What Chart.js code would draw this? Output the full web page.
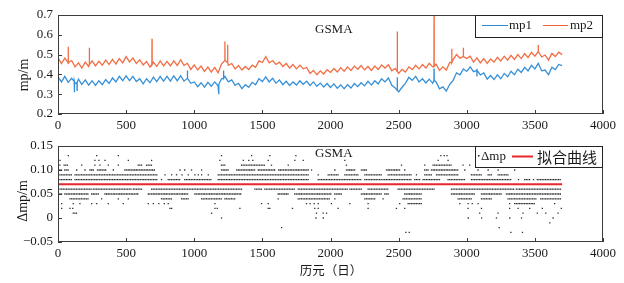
<!DOCTYPE html>
<html><head><meta charset="utf-8">
<script src="https://cdn.jsdelivr.net/npm/chart.js@4"></script>
<style>body{margin:0;background:#fff;}canvas{display:block;}</style>
</head><body>
<canvas id="c1" width="624" height="132"></canvas>
<canvas id="c2" width="624" height="151"></canvas>
<script>
// ---------- DATA ----------
const xTicks = [0,500,1000,1500,2000,2500,3000,3500,4000];
const days = Array.from({length:149},(_,i)=>i*25); // sample days 0..3700
const mp2 = [
0.485,0.455,0.482,0.452,0.47,0.438,0.458,0.432,
0.462,0.44,0.468,0.443,0.466,0.446,0.472,0.45,
0.476,0.452,0.48,0.458,0.49,0.463,0.482,0.455,
0.474,0.448,0.465,0.437,0.462,0.44,0.468,0.443,
0.466,0.443,0.468,0.445,0.474,0.446,0.456,0.425,
0.448,0.422,0.442,0.415,0.437,0.412,0.435,0.408,
0.452,0.48,0.446,0.455,0.428,0.445,0.422,0.44,
0.425,0.447,0.436,0.468,0.46,0.49,0.458,0.47,
0.45,0.462,0.44,0.455,0.432,0.45,0.428,0.446,
0.428,0.435,0.405,0.42,0.398,0.418,0.402,0.424,
0.41,0.43,0.412,0.434,0.416,0.438,0.42,0.442,
0.426,0.445,0.423,0.44,0.42,0.442,0.425,0.448,
0.432,0.448,0.418,0.43,0.405,0.425,0.412,0.438,
0.424,0.446,0.428,0.45,0.432,0.456,0.438,0.452,
0.42,0.438,0.422,0.46,0.475,0.5,0.482,0.508,
0.48,0.492,0.462,0.484,0.458,0.48,0.456,0.478,
0.462,0.486,0.468,0.492,0.472,0.496,0.476,0.5,
0.48,0.505,0.485,0.512,0.492,0.528,0.488,0.498,
0.472,0.506,0.49,0.512,0.5];
const mp1 = [
0.388,0.362,0.39,0.36,0.38,0.352,0.376,0.35,
0.372,0.346,0.368,0.344,0.368,0.348,0.374,0.354,
0.382,0.362,0.39,0.368,0.392,0.368,0.39,0.364,
0.378,0.352,0.378,0.358,0.386,0.364,0.39,0.366,
0.39,0.366,0.392,0.368,0.394,0.366,0.386,0.355,
0.362,0.338,0.358,0.336,0.36,0.34,0.362,0.342,
0.378,0.39,0.362,0.372,0.345,0.355,0.328,0.348,
0.335,0.36,0.348,0.378,0.364,0.388,0.362,0.38,
0.356,0.372,0.348,0.365,0.344,0.362,0.346,0.368,
0.35,0.366,0.344,0.362,0.34,0.356,0.336,0.354,
0.334,0.352,0.33,0.347,0.328,0.348,0.331,0.354,
0.338,0.358,0.342,0.365,0.346,0.368,0.352,0.378,
0.362,0.382,0.345,0.332,0.312,0.335,0.355,0.385,
0.37,0.39,0.362,0.378,0.357,0.376,0.355,0.362,
0.327,0.337,0.316,0.35,0.37,0.408,0.398,0.428,
0.415,0.438,0.414,0.428,0.397,0.407,0.376,0.394,
0.374,0.398,0.378,0.405,0.388,0.416,0.398,0.426,
0.41,0.436,0.418,0.446,0.428,0.456,0.418,0.422,
0.398,0.436,0.424,0.45,0.444];
// spikes: [day, base, peak]
const mp2Spikes = [[75,0.46,0.54],[230,0.45,0.535],[690,0.45,0.58],[1225,0.47,0.566],[1245,0.46,0.55],[2490,0.415,0.617],[2760,0.44,0.70],[2890,0.46,0.53],[2975,0.49,0.535],[3525,0.515,0.548]];
const mp1Spikes = [[120,0.365,0.31],[140,0.36,0.32],[950,0.38,0.42],[1180,0.35,0.30],[1215,0.38,0.42],[2490,0.32,0.385],[2760,0.37,0.43],[3075,0.42,0.39]];

// Δmp: day runs [start,end] (or single day) per quantized level
const lv013 = [[76],[284],[443],[1200],[1421],[1555],[1746],[2810],[2835],[2855]];
const lv012 = [[15],[271],[300],[345],[516],[687],[1188],[1360],[1400],[1430],[1543],[1738],[1800],[2105],[2790],[2863]];
const lv011 = [[2,20],[45,76],[174],[271],[308],[369],[443],[589,620],[650,687],[1200,1225],[1347,1518],[1567],[1690],[2117],[2521],[2692],[2753,2888],[2973],[3022],[3095],[3157]];
const lv010 = [[2,30],[50,76],[137],[198],[235,260],[290,357],[406],[491,711],[895],[930],[980],[1054],[1200,1249],[1311,1450],[1470,1600],[1620,1836],[1861],[2032],[2117,2178],[2227,2264],[2411,2508],[2545],[2692,2716],[2741,2937],[2986],[3083],[3157],[3230],[3352]];
const lv009 = [[2,100],[125,736],[785],[834],[870],[910],[956],[1005],[1030],[1054],[1103],[1176,1836],[1910],[1983,2056],[2105,2203],[2252,2374],[2423,2594],[2631],[2692,2741],[2778,2937],[3034,3108],[3157,3181],[3230,3303]];
const lv008 = [[2,100],[125,736],[760],[809,900],[930,1130],[1176,1836],[1910,2227],[2252,2374],[2386,2594],[2618,2655],[2680,2802],[2863,2986],[3034,3328],[3380],[3425,3462],[3490],[3518,3694]];
const lv006 = [[15,247],[259,540],[553,614],[687,1347],[1445,1494],[1518,1738],[1763,2129],[2142,2227],[2276,2423],[2496,2765],[2888,3352],[3364,3694]];
const lv005 = [[2,27],[51,222],[247,296],[345,589],[663,956],[1005,1347],[1616,1690],[1738,2007],[2032,2081],[2227,2374],[2399,2423],[2545,2667],[2888,3059],[3108,3254],[3291,3694]];
const lv004 = [[88,222],[320],[443],[516],[760,834],[907,956],[1054,1200],[1225,1298],[1616],[1763,1995],[2032],[2252,2325],[2386],[2533,2667],[2937,3034],[3108,3181],[3303,3518],[3543,3694]];
const lv003 = [[27],[112],[161],[247],[284],[369],[479],[663],[700],[740],[780],[809],[1152],[1494],[1543],[1824],[1850],[1880],[1910],[2007],[2142],[2276],[2508],[2570,2667],[2949],[3010],[3040],[3083],[3315],[3352,3499],[3645]];
const lv002 = [[27],[88],[108],[822],[834],[1152],[1169],[1335],[1543],[1555],[1721],[1885],[1910],[2056],[2276],[2484],[2545],[3010],[3108],[3315],[3377],[3462],[3555],[3694]];
const lv001 = [[112,137],[1127],[1897],[1946],[1971],[3095],[3230],[3413],[3518],[3580],[3670]];
const lv000 = [[1200],[1893],[1947],[3011],[3109],[3218],[3316],[3402],[3634]];
const lvm001 = [[3610]];
const lvm002 = [[1641],[3238]];
const lvm003 = [[2553],[2578],[3324],[3409]];
const levels = [[0.13,lv013],[0.12,lv012],[0.11,lv011],[0.10,lv010],[0.09,lv009],[0.08,lv008],[0.06,lv006],[0.05,lv005],[0.04,lv004],[0.03,lv003],[0.02,lv002],[0.01,lv001],[0,lv000],[-0.01,lvm001],[-0.02,lvm002],[-0.03,lvm003]];
const fitDays = [0,3700];
const fitVals = [0.0705,0.0705];

// ---------- BUILD ----------
function series(vals, spikes){
  const n=Math.min(days.length,vals.length);
  const pts=[];
  for(let i=0;i<n;i++) pts.push({x:days[i],y:vals[i]});
  spikes.forEach(([d,b,p])=>{pts.push({x:d-1,y:b},{x:d,y:p},{x:d+1,y:b});});
  pts.sort((a,b)=>a.x-b.x);
  return pts;
}
function expand(){
  const pts=[];
  levels.forEach(([v,runs])=>runs.forEach(r=>{
    const a=r[0], b=r.length>1?r[1]:r[0];
    for(let d=a; d<=b; d+=12) pts.push({x:d,y:v});
  }));
  return pts;
}
const SERIF='"Liberation Serif","Times New Roman",serif';
const CJK='"Noto Sans CJK SC","Noto Sans CJK JP",sans-serif';
Chart.defaults.font.family=SERIF;
Chart.defaults.font.size=13;
Chart.defaults.color='#1a1a1a';

function framePlugin(draw){
  return {id:'frame'+Math.floor(Math.random()*1e6), afterDatasetsDraw(chart){
    const {ctx, chartArea:a, scales:{x,y}}=chart;
    ctx.save();
    ctx.strokeStyle='#3c3c3c'; ctx.lineWidth=1;
    ctx.strokeRect(a.left+0.5,a.top+0.5,a.right-a.left-1,a.bottom-a.top-1);
    ctx.beginPath();
    x.ticks.forEach(t=>{const px=Math.round(x.getPixelForValue(t.value))+0.5; ctx.moveTo(px,a.bottom); ctx.lineTo(px,a.bottom-4);});
    y.ticks.forEach(t=>{const py=Math.round(y.getPixelForValue(t.value))+0.5; ctx.moveTo(a.left,py); ctx.lineTo(a.left+4,py);});
    ctx.stroke();
    draw(ctx,a);
    ctx.restore();
  }};
}
function xScale(h){
  return {type:'linear',min:0,max:4000,
    ticks:{stepSize:500,padding:4,callback:v=>String(v),autoSkip:false,maxRotation:0},
    grid:{display:false,drawTicks:false},border:{display:false},
    afterFit:s=>{s.height=h;}};
}

// ---------- TOP CHART ----------
new Chart(document.getElementById('c1'),{
  type:'line',
  data:{datasets:[
    {label:'mp1',data:series(mp1,mp1Spikes),borderColor:'rgba(43,138,214,0.95)',borderWidth:1.3,pointRadius:0,tension:0},
    {label:'mp2',data:series(mp2,mp2Spikes),borderColor:'rgba(240,102,58,0.95)',borderWidth:1.3,pointRadius:0,tension:0}
  ]},
  options:{responsive:false,animation:false,events:[],
    layout:{padding:{top:15,right:21,left:0,bottom:0}},
    plugins:{legend:{display:false},tooltip:{enabled:false}},
    scales:{
      x:xScale(18),
      y:{min:0.2,max:0.7,ticks:{stepSize:0.1,padding:5,callback:v=>v.toFixed(1)},
        grid:{display:false,drawTicks:false},border:{display:false},afterFit:s=>{s.width=58;}}
    }},
  plugins:[framePlugin((ctx,a)=>{
    ctx.fillStyle='#1a1a1a';
    ctx.font='13px '+SERIF; ctx.textBaseline='middle'; ctx.textAlign='left';
    ctx.fillText('GSMA',315,30);
    ctx.save(); ctx.translate(24,75); ctx.rotate(-Math.PI/2);
    ctx.font='14px '+SERIF; ctx.textAlign='center'; ctx.fillText('mp/m',0,0); ctx.restore();
    // legend
    ctx.fillStyle='#fff'; ctx.fillRect(476,16,126,21);
    ctx.strokeStyle='#222'; ctx.lineWidth=1; ctx.strokeRect(475.5,15.5,127,22);
    ctx.beginPath(); ctx.strokeStyle='#2b8ad6'; ctx.moveTo(482,25.5); ctx.lineTo(508,25.5); ctx.stroke();
    ctx.beginPath(); ctx.strokeStyle='#f0663a'; ctx.moveTo(543,25.5); ctx.lineTo(568,25.5); ctx.stroke();
    ctx.fillStyle='#1a1a1a'; ctx.font='13px '+SERIF; ctx.textAlign='left';
    ctx.fillText('mp1',509,26); ctx.fillText('mp2',570,26);
  })]
});

// ---------- BOTTOM CHART ----------
const yLab={'-5':'\u22120.05','0':'0','5':'0.05','10':'0.10','15':'0.15'};
new Chart(document.getElementById('c2'),{
  type:'scatter',
  data:{datasets:[
    {label:'\u0394mp',data:expand(),pointStyle:'rect',pointRadius:0.9,borderWidth:0,backgroundColor:'#2a2a2a',showLine:false},
    {label:'拟合曲线',type:'line',data:fitDays.map((d,i)=>({x:d,y:fitVals[i]})),borderColor:'#e8262c',borderWidth:2,pointRadius:0}
  ]},
  options:{responsive:false,animation:false,events:[],
    layout:{padding:{top:14,right:21,left:0,bottom:0}},
    plugins:{legend:{display:false},tooltip:{enabled:false}},
    scales:{
      x:xScale(41),
      y:{min:-0.05,max:0.15,ticks:{stepSize:0.05,padding:5,callback:v=>yLab[String(Math.round(v*100))]},
        grid:{display:false,drawTicks:false},border:{display:false},afterFit:s=>{s.width=58;}}
    }},
  plugins:[framePlugin((ctx,a)=>{
    ctx.fillStyle='#1a1a1a';
    ctx.font='13px '+SERIF; ctx.textBaseline='middle'; ctx.textAlign='left';
    ctx.fillText('GSMA',315,22);
    ctx.save(); ctx.translate(23,69); ctx.rotate(-Math.PI/2);
    ctx.font='14px '+SERIF; ctx.textAlign='center'; ctx.fillText('\u0394mp/m',0,0); ctx.restore();
    ctx.font='12.5px '+CJK; ctx.textAlign='center'; ctx.fillText('历元（日）',331,138);
    // legend
    ctx.fillStyle='#fff'; ctx.fillRect(476,15,126,20);
    ctx.strokeStyle='#222'; ctx.lineWidth=1; ctx.strokeRect(475.5,14.5,127,21);
    ctx.fillStyle='#222'; ctx.fillRect(478,23,1.5,1.5);
    ctx.beginPath(); ctx.strokeStyle='#e8262c'; ctx.lineWidth=2; ctx.moveTo(512,24.5); ctx.lineTo(533,24.5); ctx.stroke();
    ctx.fillStyle='#1a1a1a'; ctx.font='13px '+SERIF; ctx.textAlign='left';
    ctx.fillText('\u0394mp',481,25);
    ctx.font='15px '+CJK; ctx.fillText('拟合曲线',537,25);
  })]
});
</script></body></html>
